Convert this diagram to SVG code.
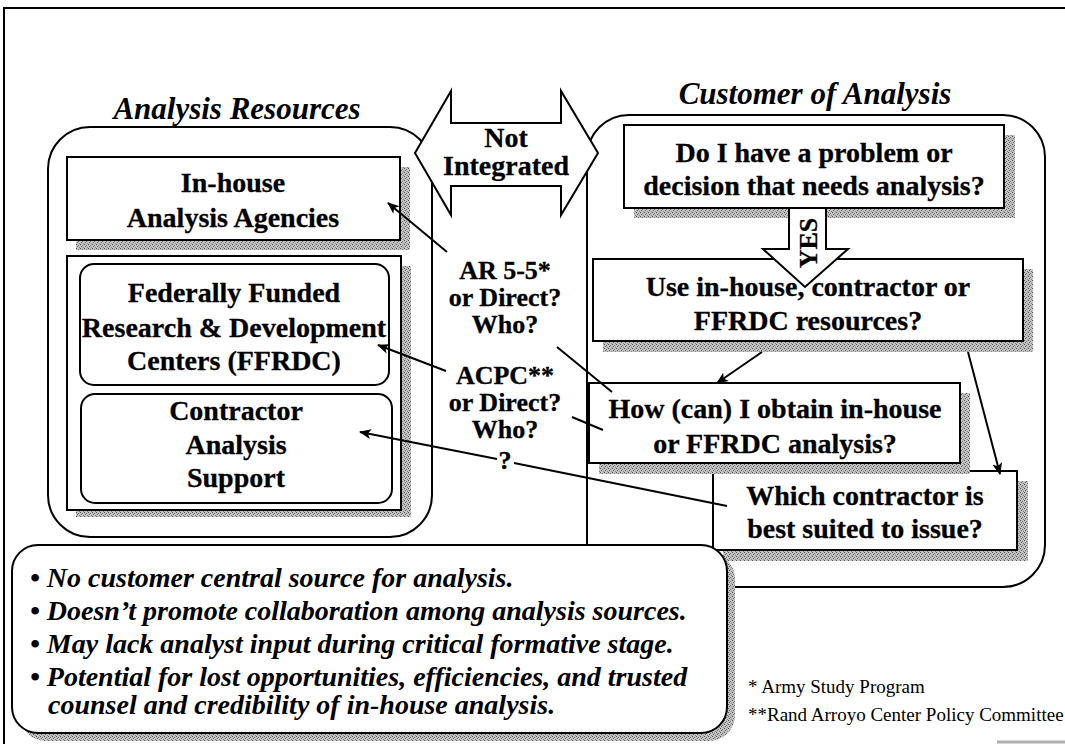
<svg xmlns="http://www.w3.org/2000/svg" width="1065" height="744" viewBox="0 0 1065 744">
<style>
.b{font-family:"Liberation Serif","Times New Roman",serif;font-weight:bold;font-size:28px;fill:#000;text-anchor:middle;stroke:#000;stroke-width:0.3}
.c{font-family:"Liberation Serif","Times New Roman",serif;font-weight:bold;font-size:26px;fill:#000;text-anchor:middle;stroke:#000;stroke-width:0.3}
.t{font-family:"Liberation Serif","Times New Roman",serif;font-weight:bold;font-style:italic;font-size:31px;fill:#000;text-anchor:middle}
.bl{font-family:"Liberation Serif","Times New Roman",serif;font-weight:bold;font-style:italic;font-size:28px;fill:#000}
.fn{font-family:"Liberation Serif","Times New Roman",serif;font-size:19px;fill:#000}
.box{fill:#fff;stroke:#000;stroke-width:2}
.sh{fill:url(#dots)}
.ln{fill:none;stroke:#000;stroke-width:2}
.arr{fill:none;stroke:#000;stroke-width:2;marker-end:url(#ah)}
</style>
<defs>
<pattern id="dots" width="4" height="4" patternUnits="userSpaceOnUse">
<rect width="4" height="4" fill="#c4c4c4"/>
<rect x="0" y="0" width="1" height="1" fill="#505050"/>
<rect x="2" y="1" width="1" height="1" fill="#707070"/>
<rect x="1" y="2" width="1" height="1" fill="#606060"/>
<rect x="3" y="3" width="1" height="1" fill="#808080"/>
</pattern>
<marker id="ah" viewBox="0 0 12 10" refX="11" refY="5" markerWidth="12" markerHeight="10" markerUnits="userSpaceOnUse" orient="auto">
<path d="M0,0 L12,5 L0,10 L3,5 z" fill="#000"/>
</marker>
</defs>
<rect width="1065" height="744" fill="#fff"/>
<g id="frame">
<path d="M4,744 L4,8 L1065,8" fill="none" stroke="#000" stroke-width="2"/>
<line x1="997" y1="742" x2="1065" y2="742" stroke="#b0b0b0" stroke-width="3"/>
</g>
<g id="analysis-resources">
<rect x="48" y="127" width="384" height="410" rx="42" class="box"/>
<text x="237" y="119" class="t">Analysis Resources</text>
</g>
<g id="customer-of-analysis">
<rect x="587" y="115" width="458" height="472" rx="42" class="box"/>
<text x="815" y="104" class="t">Customer of Analysis</text>
</g>
<g id="in-house">
<rect x="76" y="167" width="334" height="83" class="sh"/>
<rect x="67" y="157" width="333" height="83" class="box"/>
<text x="233" y="192" class="b">In-house</text>
<text x="233" y="227" class="b">Analysis Agencies</text>
</g>
<g id="external-resources">
<rect x="76" y="266" width="335" height="251" class="sh"/>
<rect x="67" y="256" width="334" height="254" class="box"/>
</g>
<g id="ffrdc">
<rect x="80" y="264" width="309" height="121" rx="14" class="box"/>
<text x="234" y="302" class="b">Federally Funded</text>
<text x="234" y="337" class="b">Research &amp; Development</text>
<text x="234" y="370" class="b">Centers (FFRDC)</text>
</g>
<g id="contractor">
<rect x="81" y="394" width="311" height="109" rx="14" class="box"/>
<text x="236" y="420" class="b">Contractor</text>
<text x="236" y="454" class="b">Analysis</text>
<text x="236" y="487" class="b">Support</text>
</g>
<g id="do-i-have">
<rect x="634" y="135" width="381" height="83" class="sh"/>
<rect x="624" y="125" width="380" height="83" class="box"/>
<text x="814" y="162" class="b">Do I have a problem or</text>
<text x="814" y="195" class="b">decision that needs analysis?</text>
</g>
<g id="use-resources">
<rect x="603" y="269" width="430" height="83" class="sh"/>
<rect x="593" y="259" width="430" height="82" class="box"/>
<text x="808" y="296" class="b">Use in-house, contractor or</text>
<text x="808" y="330" class="b">FFRDC resources?</text>
</g>
<g id="which-contractor">
<rect x="723" y="481" width="305" height="80" class="sh"/>
<rect x="713" y="471" width="304" height="79" class="box"/>
<text x="865" y="505" class="b">Which contractor is</text>
<text x="865" y="538" class="b">best suited to issue?</text>
</g>
<g id="how-obtain">
<rect x="599" y="393" width="371" height="81" class="sh"/>
<rect x="589" y="383" width="371" height="80" class="box"/>
<text x="775" y="418" class="b">How (can) I obtain in-house</text>
<text x="775" y="453" class="b">or FFRDC  analysis?</text>
</g>
<g id="yes-arrow">
<path d="M789,208 L826,208 L826,249 L848,249 L805,287 L763,249 L789,249 Z" class="box"/>
<text x="0" y="0" class="c" transform="translate(817,243) rotate(-90)">YES</text>
</g>
<g id="issues">
<rect x="20" y="553" width="715" height="188" rx="26" class="sh"/>
<rect x="12" y="545" width="715" height="188" rx="26" class="box"/>
<text x="30" y="587" class="bl">• No customer central source for analysis.</text>
<text x="30" y="620" class="bl">• Doesn’t promote collaboration among analysis sources.</text>
<text x="30" y="653" class="bl">• May lack analyst input during critical formative stage.</text>
<text x="30" y="686" class="bl">• Potential for lost opportunities, efficiencies, and trusted</text>
<text x="48" y="714" class="bl">counsel and credibility of in-house analysis.</text>
</g>
<g id="not-integrated">
<path d="M415,153 L451,91 L451,123 L561,123 L561,91 L598,153 L561,215 L561,186 L451,186 L451,215 Z" class="box"/>
<text x="506" y="147" class="b">Not</text>
<text x="506" y="175" class="b">Integrated</text>
</g>
<g id="labels">
<text x="505" y="279" class="c">AR 5-5*</text>
<text x="505" y="306" class="c">or Direct?</text>
<text x="505" y="333" class="c">Who?</text>
<text x="505" y="384" class="c">ACPC**</text>
<text x="505" y="411" class="c">or Direct?</text>
<text x="505" y="438" class="c">Who?</text>
<text x="505" y="469" class="c">?</text>
</g>
<g id="footnotes">
<text x="748" y="693" class="fn">* Army Study Program</text>
<text x="748" y="721" class="fn">**Rand Arroyo Center Policy Committee</text>
</g>
<g id="connectors">
<line x1="447" y1="252" x2="388" y2="203" class="arr"/>
<line x1="446" y1="371" x2="378" y2="345" class="arr"/>
<line x1="497" y1="459" x2="360" y2="432" class="arr"/>
<line x1="514" y1="463" x2="727" y2="506" class="ln"/>
<line x1="557" y1="347" x2="612" y2="392" class="ln"/>
<line x1="572" y1="417" x2="603" y2="430" class="ln"/>
<line x1="762" y1="352" x2="717" y2="383" class="arr"/>
<line x1="968" y1="352" x2="1000" y2="474" class="arr"/>
</g>
</svg>
